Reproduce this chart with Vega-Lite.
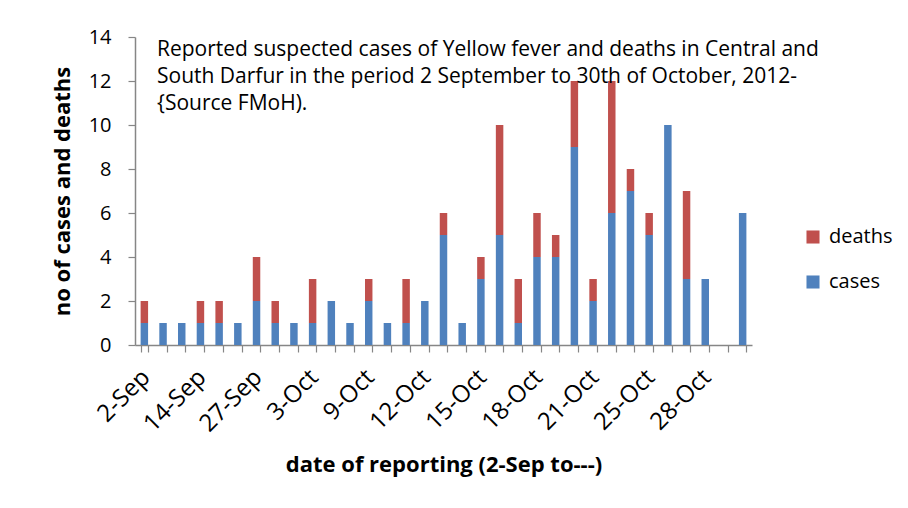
{
  "$schema": "https://vega.github.io/schema/vega-lite/v6.json",
  "autosize": {"type": "none"},
  "padding": {"left": 135, "top": 37, "right": 156, "bottom": 163},
  "width": 617,
  "height": 308,
  "background": "white",
  "title": {
    "text": ["Reported suspected cases of Yellow fever and deaths in Central and", "South Darfur in the period 2 September to 30th of October, 2012-", "{Source FMoH)."],
    "anchor": "start",
    "frame": "group",
    "orient": "top",
    "offset": 0,
    "baseline": "alphabetic",
    "dx": 22,
    "dy": 104,
    "lineHeight": 27,
    "font": "Open Sans",
    "fontSize": 21,
    "fontWeight": "normal",
    "color": "black"
  },
  "data": {
    "values": [
      {"date": "2-Sep", "type": "cases", "count": 1}, {"date": "2-Sep", "type": "deaths", "count": 1},
      {"date": "8-Sep", "type": "cases", "count": 1}, {"date": "8-Sep", "type": "deaths", "count": 0},
      {"date": "11-Sep", "type": "cases", "count": 1}, {"date": "11-Sep", "type": "deaths", "count": 0},
      {"date": "14-Sep", "type": "cases", "count": 1}, {"date": "14-Sep", "type": "deaths", "count": 1},
      {"date": "18-Sep", "type": "cases", "count": 1}, {"date": "18-Sep", "type": "deaths", "count": 1},
      {"date": "22-Sep", "type": "cases", "count": 1}, {"date": "22-Sep", "type": "deaths", "count": 0},
      {"date": "27-Sep", "type": "cases", "count": 2}, {"date": "27-Sep", "type": "deaths", "count": 2},
      {"date": "29-Sep", "type": "cases", "count": 1}, {"date": "29-Sep", "type": "deaths", "count": 1},
      {"date": "1-Oct", "type": "cases", "count": 1}, {"date": "1-Oct", "type": "deaths", "count": 0},
      {"date": "3-Oct", "type": "cases", "count": 1}, {"date": "3-Oct", "type": "deaths", "count": 2},
      {"date": "5-Oct", "type": "cases", "count": 2}, {"date": "5-Oct", "type": "deaths", "count": 0},
      {"date": "7-Oct", "type": "cases", "count": 1}, {"date": "7-Oct", "type": "deaths", "count": 0},
      {"date": "9-Oct", "type": "cases", "count": 2}, {"date": "9-Oct", "type": "deaths", "count": 1},
      {"date": "10-Oct", "type": "cases", "count": 1}, {"date": "10-Oct", "type": "deaths", "count": 0},
      {"date": "11-Oct", "type": "cases", "count": 1}, {"date": "11-Oct", "type": "deaths", "count": 2},
      {"date": "12-Oct", "type": "cases", "count": 2}, {"date": "12-Oct", "type": "deaths", "count": 0},
      {"date": "13-Oct", "type": "cases", "count": 5}, {"date": "13-Oct", "type": "deaths", "count": 1},
      {"date": "14-Oct", "type": "cases", "count": 1}, {"date": "14-Oct", "type": "deaths", "count": 0},
      {"date": "15-Oct", "type": "cases", "count": 3}, {"date": "15-Oct", "type": "deaths", "count": 1},
      {"date": "16-Oct", "type": "cases", "count": 5}, {"date": "16-Oct", "type": "deaths", "count": 5},
      {"date": "17-Oct", "type": "cases", "count": 1}, {"date": "17-Oct", "type": "deaths", "count": 2},
      {"date": "18-Oct", "type": "cases", "count": 4}, {"date": "18-Oct", "type": "deaths", "count": 2},
      {"date": "19-Oct", "type": "cases", "count": 4}, {"date": "19-Oct", "type": "deaths", "count": 1},
      {"date": "20-Oct", "type": "cases", "count": 9}, {"date": "20-Oct", "type": "deaths", "count": 3},
      {"date": "21-Oct", "type": "cases", "count": 2}, {"date": "21-Oct", "type": "deaths", "count": 1},
      {"date": "22-Oct", "type": "cases", "count": 6}, {"date": "22-Oct", "type": "deaths", "count": 6},
      {"date": "24-Oct", "type": "cases", "count": 7}, {"date": "24-Oct", "type": "deaths", "count": 1},
      {"date": "25-Oct", "type": "cases", "count": 5}, {"date": "25-Oct", "type": "deaths", "count": 1},
      {"date": "26-Oct", "type": "cases", "count": 10}, {"date": "26-Oct", "type": "deaths", "count": 0},
      {"date": "27-Oct", "type": "cases", "count": 3}, {"date": "27-Oct", "type": "deaths", "count": 4},
      {"date": "28-Oct", "type": "cases", "count": 3}, {"date": "28-Oct", "type": "deaths", "count": 0},
      {"date": "29-Oct", "type": "cases", "count": 0}, {"date": "29-Oct", "type": "deaths", "count": 0},
      {"date": "30-Oct", "type": "cases", "count": 6}, {"date": "30-Oct", "type": "deaths", "count": 0}
    ]
  },
  "mark": {"type": "bar"},
  "encoding": {
    "x": {
      "field": "date",
      "type": "nominal",
      "sort": null,
      "scale": {"paddingInner": 0.6, "paddingOuter": 0.3},
      "axis": {
        "title": "date of reporting (2-Sep to---)",
        "titleFont": "Open Sans",
        "titleFontSize": 22,
        "titleFontWeight": "bold",
        "titleColor": "black",
        "titlePadding": 18,
        "labelAngle": -45,
        "labelFont": "Open Sans",
        "labelFontSize": 24,
        "labelColor": "black",
        "labelPadding": 13,
        "labelOffset": -7,
        "labelExpr": "indexof(['2-Sep','14-Sep','27-Sep','3-Oct','9-Oct','12-Oct','15-Oct','18-Oct','21-Oct','25-Oct','28-Oct'], datum.value) >= 0 ? datum.value : ''",
        "tickBand": "extent",
        "tickSize": 7,
        "tickColor": "#868686",
        "domainColor": "#868686",
        "domainWidth": 1.5,
        "tickWidth": 1.2,
        "labelOverlap": false
      }
    },
    "y": {
      "field": "count",
      "type": "quantitative",
      "stack": "zero",
      "scale": {"domain": [0, 14], "nice": false},
      "axis": {
        "title": "no of cases and deaths",
        "titleFont": "Open Sans",
        "titleFontSize": 22,
        "titleFontWeight": "bold",
        "titleColor": "black",
        "titlePadding": 14,
        "values": [0, 2, 4, 6, 8, 10, 12, 14],
        "labelFont": "Open Sans",
        "labelFontSize": 20,
        "labelColor": "black",
        "labelPadding": 17,
        "grid": false,
        "tickSize": 7,
        "tickColor": "#868686",
        "domainColor": "#868686",
        "domainWidth": 1.5,
        "tickWidth": 1.2
      }
    },
    "color": {
      "field": "type",
      "type": "nominal",
      "scale": {"domain": ["deaths", "cases"], "range": ["#C0504D", "#4F81BD"]},
      "legend": {
        "title": null,
        "orient": "none",
        "legendX": 668,
        "legendY": 190,
        "symbolType": "square",
        "symbolSize": 170,
        "symbolStrokeWidth": 0,
        "labelFont": "Open Sans",
        "labelFontSize": 20,
        "labelColor": "black",
        "rowPadding": 25,
        "labelOffset": 6
      }
    },
    "order": {"field": "type", "sort": "ascending"}
  },
  "config": {"view": {"stroke": null}}
}
